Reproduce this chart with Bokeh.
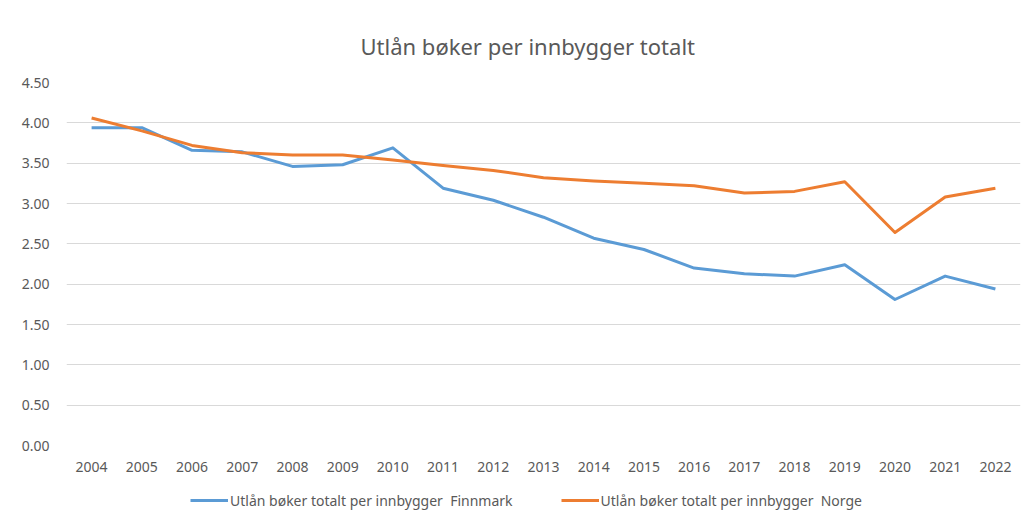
from bokeh.plotting import figure
from bokeh.layouts import column
from bokeh.models import (FactorRange, Range1d, FixedTicker, NumeralTickFormatter,
                          Legend, LegendItem)
from bokeh.embed import file_html
from bokeh.resources import INLINE

years = [str(y) for y in range(2004, 2023)]
finnmark = [3.94, 3.94, 3.66, 3.64, 3.46, 3.48, 3.69, 3.19, 3.04, 2.83,
            2.57, 2.43, 2.20, 2.13, 2.10, 2.24, 1.81, 2.10, 1.94]
norge = [4.06, 3.90, 3.72, 3.63, 3.60, 3.60, 3.54, 3.47, 3.41, 3.32,
         3.28, 3.25, 3.22, 3.13, 3.15, 3.27, 2.64, 3.08, 3.19]
y_ticks = [0.0, 0.5, 1.0, 1.5, 2.0, 2.5, 3.0, 3.5, 4.0, 4.5]
title_text = "Utlån bøker per innbygger totalt"
label_finnmark = "Utlån bøker totalt per innbygger  Finnmark"
label_norge = "Utlån bøker totalt per innbygger  Norge"

FONT = "Noto Sans"
TXT = "#595959"
GRID = "#D9D9D9"
BLUE = "#5B9BD5"
ORANGE = "#ED7D31"

p = figure(width=1029, height=480, output_backend="svg", toolbar_location=None,
           x_range=FactorRange(factors=years, range_padding=0),
           y_range=Range1d(0, 4.5),
           min_border_left=66, min_border_right=9, min_border_top=82,
           min_border_bottom=35)

p.outline_line_color = None
p.background_fill_color = "white"
p.border_fill_color = "white"

# title
p.title.text = title_text
p.title.align = "left"
p.title.offset = 294
p.title.text_font = FONT
p.title.text_font_size = "22px"
p.title.text_font_style = "normal"
p.title.text_color = TXT
p.title.standoff = 44

# axes
p.yaxis.ticker = FixedTicker(ticks=y_ticks)
p.yaxis.formatter = NumeralTickFormatter(format="0.00")
for ax in (p.xaxis[0], p.yaxis[0]):
    ax.axis_line_color = None
    ax.major_tick_line_color = None
    ax.minor_tick_line_color = None
    ax.major_label_text_font = FONT
    ax.major_label_text_font_size = "14px"
    ax.major_label_text_color = TXT
p.yaxis.major_label_standoff = 11
p.xaxis.major_label_standoff = 10

p.xgrid.grid_line_color = None
p.ygrid.grid_line_color = GRID
p.ygrid.grid_line_width = 1

p.line(years, finnmark, line_color=BLUE, line_width=3, line_join="round")
p.line(years, norge, line_color=ORANGE, line_width=3, line_join="round")

# legend strip below the chart (own small figure, series lines kept out of view)
lf = figure(width=1029, height=42, output_backend="svg", toolbar_location=None,
            x_range=FactorRange(factors=years, range_padding=0),
            y_range=Range1d(100, 101),
            x_axis_location=None, y_axis_location=None,
            min_border_left=0, min_border_right=0, min_border_top=0,
            min_border_bottom=0)
lf.outline_line_color = None
lf.xgrid.grid_line_color = None
lf.ygrid.grid_line_color = None
lf.background_fill_color = "white"
lf.border_fill_color = "white"
l1 = lf.line(years, finnmark, line_color=BLUE, line_width=3)
l2 = lf.line(years, norge, line_color=ORANGE, line_width=3)

legend = Legend(items=[LegendItem(label=label_finnmark, renderers=[l1]),
                       LegendItem(label=label_norge, renderers=[l2])],
                location=(124, 12), orientation="horizontal",
                glyph_width=38, glyph_height=20, label_height=20,
                label_standoff=2, padding=0, margin=0, spacing=48,
                border_line_color=None, background_fill_alpha=0,
                label_text_font=FONT, label_text_font_size="14px",
                label_text_color=TXT)
lf.add_layout(legend)

layout = column(p, lf, spacing=0)
open("out.html", "w").write(file_html(layout, INLINE))
